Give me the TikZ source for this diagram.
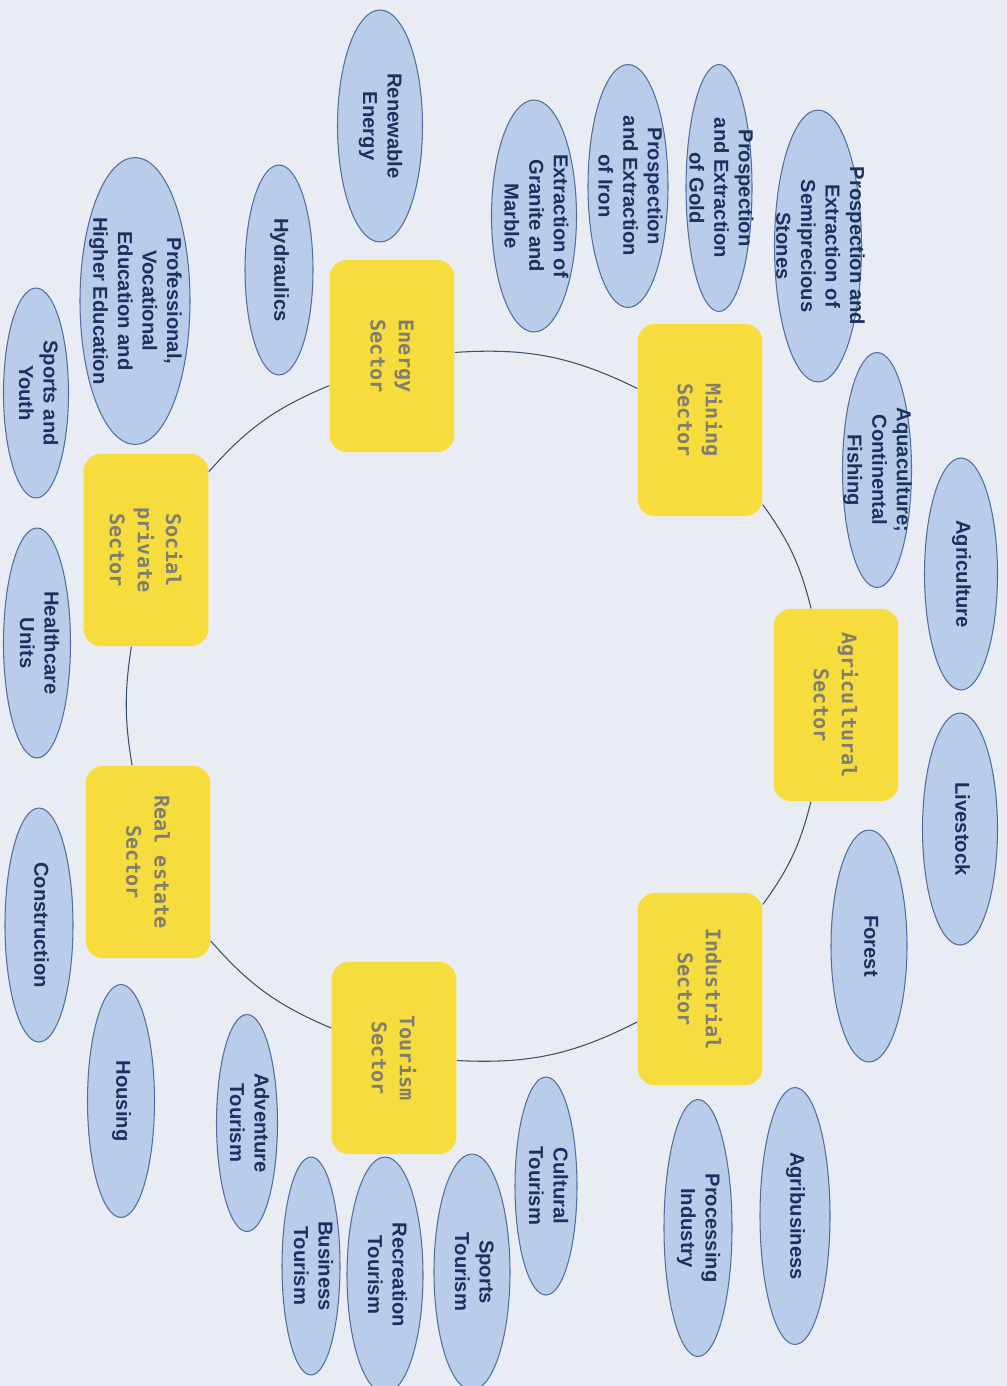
\documentclass[tikz,border=0pt]{standalone}
\usepackage{fontspec}
\setmainfont{Liberation Sans}
\newfontfamily\sectorfont{DejaVu Sans Mono}
\usepackage{tikz}
\usetikzlibrary{shapes.geometric}

\definecolor{paper}{RGB}{233,236,243}
\definecolor{sectoryellow}{RGB}{247,220,62}
\definecolor{sectorgrey}{RGB}{128,126,112}
\definecolor{leafblue}{RGB}{185,205,235}
\definecolor{leafline}{RGB}{80,110,160}
\definecolor{leafink}{RGB}{28,48,95}
\definecolor{ringline}{RGB}{60,80,112}

% text of an ellipse, kept out of the size of the shape
\newcommand{\elabel}[1]{\makebox[0pt]{\smash{\raisebox{-.25em}{\begin{tabular}{@{}c@{}}#1\end{tabular}}}}}

\begin{document}
\begin{tikzpicture}[x=0.02cm, y=-0.02cm,
    sector/.style={rectangle, rounded corners=0.36cm, fill=sectoryellow, rotate=-90,
      minimum width=3.85cm, minimum height=2.5cm, align=center, text=sectorgrey,
      font=\sectorfont\bfseries\fontsize{11.5}{16}\selectfont},
    leaf/.style={ellipse, draw=leafline, line width=0.6pt, fill=leafblue, rotate=-90,
      inner sep=0pt, text=leafink, font=\fontsize{11.5}{14}\selectfont\bfseries},
    ring/.style={draw=ringline, line width=0.6pt}]
  \useasboundingbox (0,0) rectangle (1007,1386);
  \clip (0,0) rectangle (1007,1386);
  \fill[paper] (0,0) rectangle (1007,1386);

  % sectors
  \node[sector] (energy) at (392,356) {Energy\\Sector};
  \node[sector] (mining) at (700,420) {Mining\\Sector};
  \node[sector] (agri) at (836,705) {Agricultural\\Sector};
  \node[sector] (industry) at (700,989) {Industrial\\Sector};
  \node[sector] (tourism) at (394,1058) {Tourism\\Sector};
  \node[sector] (realestate) at (148,862) {Real estate\\Sector};
  \node[sector] (social) at (146,550) {Social\\private\\Sector};

  \draw[ring] (energy) to[bend left=15] (mining);
  \draw[ring] (mining) to[bend left=11] (agri);
  \draw[ring] (agri) to[bend left=11] (industry);
  \draw[ring] (industry) to[bend left=15] (tourism);
  \draw[ring] (tourism) to[bend left=13] (realestate);
  \draw[ring] (realestate) to[bend left=9] (social);
  \draw[ring] (social) to[bend left=13] (energy);

  % energy
  \node[leaf, minimum width=4.64cm, minimum height=1.7cm] (renewable) at (380,126) {\elabel{Renewable\\Energy}};
  \node[leaf, minimum width=4.2cm, minimum height=1.36cm] (hydraulics) at (279,270) {\elabel{Hydraulics}};

  % social private
  \node[leaf, minimum width=5.74cm, minimum height=2.2cm] (education) at (135,301) {\elabel{Professional,\\Vocational\\Education and\\Higher Education}};
  \node[leaf, minimum width=4.2cm, minimum height=1.3cm] (sportsyouth) at (36,393) {\elabel{Sports and\\Youth}};
  \node[leaf, minimum width=4.6cm, minimum height=1.34cm] (healthcare) at (37,643) {\elabel{Healthcare\\Units}};

  % real estate
  \node[leaf, minimum width=4.68cm, minimum height=1.36cm] (construction) at (39,925) {\elabel{Construction}};
  \node[leaf, minimum width=4.66cm, minimum height=1.34cm] (housing) at (121,1101) {\elabel{Housing}};

  % tourism
  \node[leaf, minimum width=4.34cm, minimum height=1.22cm] (adventure) at (247,1123) {\elabel{Adventure\\Tourism}};
  \node[leaf, minimum width=4.36cm, minimum height=1.16cm] (business) at (311,1266) {\elabel{Business\\Tourism}};
  \node[leaf, minimum width=4.72cm, minimum height=1.52cm] (recreation) at (385,1275) {\elabel{Recreation\\Tourism}};
  \node[leaf, minimum width=4.72cm, minimum height=1.52cm] (sportstour) at (472,1272) {\elabel{Sports\\Tourism}};
  \node[leaf, minimum width=4.36cm, minimum height=1.24cm] (cultural) at (546,1186) {\elabel{Cultural\\Tourism}};

  % industrial
  \node[leaf, minimum width=5.14cm, minimum height=1.36cm] (processing) at (698,1228) {\elabel{Processing\\Industry}};
  \node[leaf, minimum width=5.14cm, minimum height=1.4cm] (agribusiness) at (795,1216) {\elabel{Agribusiness}};

  % agricultural
  \node[leaf, minimum width=4.64cm, minimum height=1.52cm] (forest) at (869,946) {\elabel{Forest}};
  \node[leaf, minimum width=4.64cm, minimum height=1.5cm] (livestock) at (960,829) {\elabel{Livestock}};
  \node[leaf, minimum width=4.64cm, minimum height=1.46cm] (agriculture) at (961,574) {\elabel{Agriculture}};
  \node[leaf, minimum width=4.7cm, minimum height=1.38cm] (aquaculture) at (877,470) {\elabel{Aquaculture;\\Continental\\Fishing}};

  % mining
  \node[leaf, minimum width=5.44cm, minimum height=1.74cm] (stones) at (818,246) {\elabel{Prospection and\\Extraction of\\Semiprecious\\Stones}};
  \node[leaf, minimum width=4.94cm, minimum height=1.32cm] (gold) at (719,188) {\elabel{Prospection\\and Extraction\\of Gold}};
  \node[leaf, minimum width=4.86cm, minimum height=1.6cm] (iron) at (628,186) {\elabel{Prospection\\and Extraction\\of Iron}};
  \node[leaf, minimum width=4.64cm, minimum height=1.7cm] (granite) at (534,216) {\elabel{Extraction of\\Granite and\\Marble}};
\end{tikzpicture}
\end{document}
